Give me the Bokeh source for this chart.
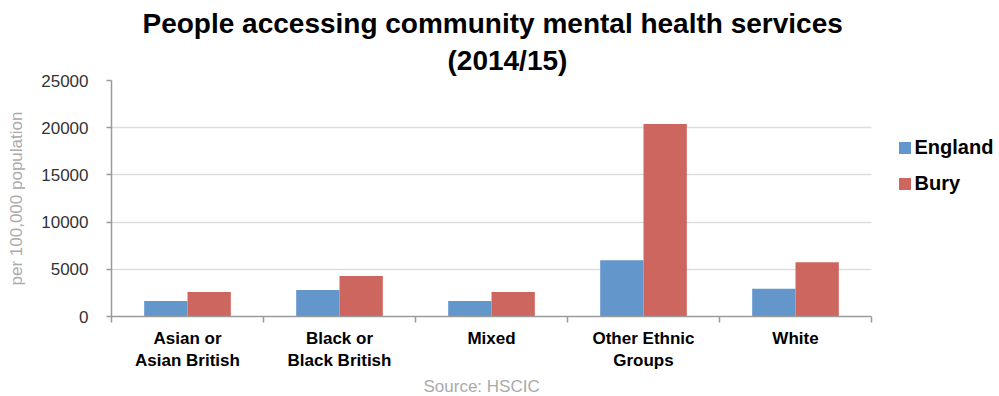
import numpy as np
from bokeh.plotting import figure
from bokeh.models import (ColumnDataSource, Range1d, FixedTicker, Legend, LegendItem,
                          Title, BoxAnnotation)
from bokeh.embed import file_html
from bokeh.resources import INLINE

categories = ["Asian or\nAsian British", "Black or\nBlack British", "Mixed",
              "Other Ethnic\nGroups", "White"]
england = [1650, 2800, 1650, 5950, 2930]
bury = [2600, 4300, 2600, 20400, 5750]
series_names = ["England", "Bury"]
y_ticks = [0, 5000, 10000, 15000, 20000, 25000]
title_lines = ["People accessing community mental health services", "(2014/15)"]
y_label = "per 100,000 population"
source_note = "Source: HSCIC"

FONT = "Liberation Sans"
BLUE = "#6396cb"
RED = "#cd665f"
AXIS = "#9a9a9a"

# layout geometry (pixels)
W, H = 999, 396
LEFT, AXIS_RIGHT, TOP, BOTTOM = 111, 871, 80, 316

n = len(categories)
centers = np.arange(n) + 0.5
bar_w = 0.285
src = ColumnDataSource(dict(x_eng=centers - bar_w / 2, x_bury=centers + bar_w / 2,
                            england=england, bury=bury))

# frame spans to the right edge so the legend can sit beside the bars
x_end = n * (W - LEFT) / (AXIS_RIGHT - LEFT)

p = figure(width=W, height=H, output_backend="svg", toolbar_location=None,
           x_range=Range1d(0, x_end), y_range=Range1d(0, y_ticks[-1]),
           min_border_left=LEFT, min_border_right=0, min_border_top=TOP,
           min_border_bottom=H - BOTTOM)
p.outline_line_color = None

r1 = p.vbar(x="x_eng", top="england", width=bar_w, source=src,
            fill_color=BLUE, line_color=None)
r2 = p.vbar(x="x_bury", top="bury", width=bar_w, source=src,
            fill_color=RED, line_color=None)

# x axis
xa = p.xaxis[0]
xa.bounds = (0, n)
xa.ticker = FixedTicker(ticks=list(centers), minor_ticks=list(range(n + 1)))
xa.major_label_overrides = {float(c): lab for c, lab in zip(centers, categories)}
xa.major_tick_out = 0
xa.major_tick_in = 0
xa.minor_tick_out = 6
xa.minor_tick_in = 0
xa.minor_tick_line_color = AXIS
xa.minor_tick_line_width = 1.5
xa.axis_line_color = AXIS
xa.axis_line_width = 1.5
xa.major_label_standoff = 6
xa.major_label_text_font = FONT
xa.major_label_text_font_style = "bold"
xa.major_label_text_font_size = "17px"
xa.major_label_text_color = "black"
p.xgrid.visible = False

# y axis
ya = p.yaxis[0]
ya.ticker = FixedTicker(ticks=y_ticks)
ya.major_tick_out = 5
ya.major_tick_in = 0
ya.minor_tick_line_color = None
ya.major_tick_line_color = AXIS
ya.major_tick_line_width = 1.5
ya.axis_line_color = AXIS
ya.axis_line_width = 1.5
ya.major_label_standoff = 18
ya.major_label_text_font = FONT
ya.major_label_text_font_size = "17px"
ya.major_label_text_color = "#333333"
ya.axis_label = y_label
ya.axis_label_text_font = FONT
ya.axis_label_text_font_style = "normal"
ya.axis_label_text_font_size = "17px"
ya.axis_label_text_color = "#aaaaaa"
ya.axis_label_standoff = 12
p.ygrid.ticker = FixedTicker(ticks=y_ticks)
p.ygrid.grid_line_color = "#dddddd"
p.ygrid.grid_line_width = 1.5

# blank out the grid to the right of the category area
p.add_layout(BoxAnnotation(left=n, fill_color="white", fill_alpha=1.0,
                           line_color=None))

legend = Legend(items=[LegendItem(label=series_names[0], renderers=[r1]),
                       LegendItem(label=series_names[1], renderers=[r2])],
                location=(785.5, 121), padding=0, margin=0, border_line_color=None,
                background_fill_alpha=0, glyph_width=15, glyph_height=15,
                label_height=24, spacing=12, label_standoff=3,
                label_text_font=FONT, label_text_font_style="bold",
                label_text_font_size="20px", label_text_color="black")
p.add_layout(legend, "center")

# titles (p.title is outermost, added title sits next to the frame)
p.title.text = title_lines[0]
p.title.align = "left"
p.title.offset = 31
p.title.standoff = 0
p.title.text_font = FONT
p.title.text_font_style = "bold"
p.title.text_font_size = "28px"
p.title.text_color = "black"
p.add_layout(Title(text=title_lines[1], align="left", offset=336, standoff=9,
                   text_font=FONT, text_font_style="bold", text_font_size="28px",
                   text_color="black"), "above")
p.add_layout(Title(text=source_note, align="left", offset=312, standoff=2,
                   text_font=FONT, text_font_style="normal", text_font_size="17px",
                   text_color="#aaaaaa"), "below")

open("out.html", "w").write(file_html(p, INLINE))
